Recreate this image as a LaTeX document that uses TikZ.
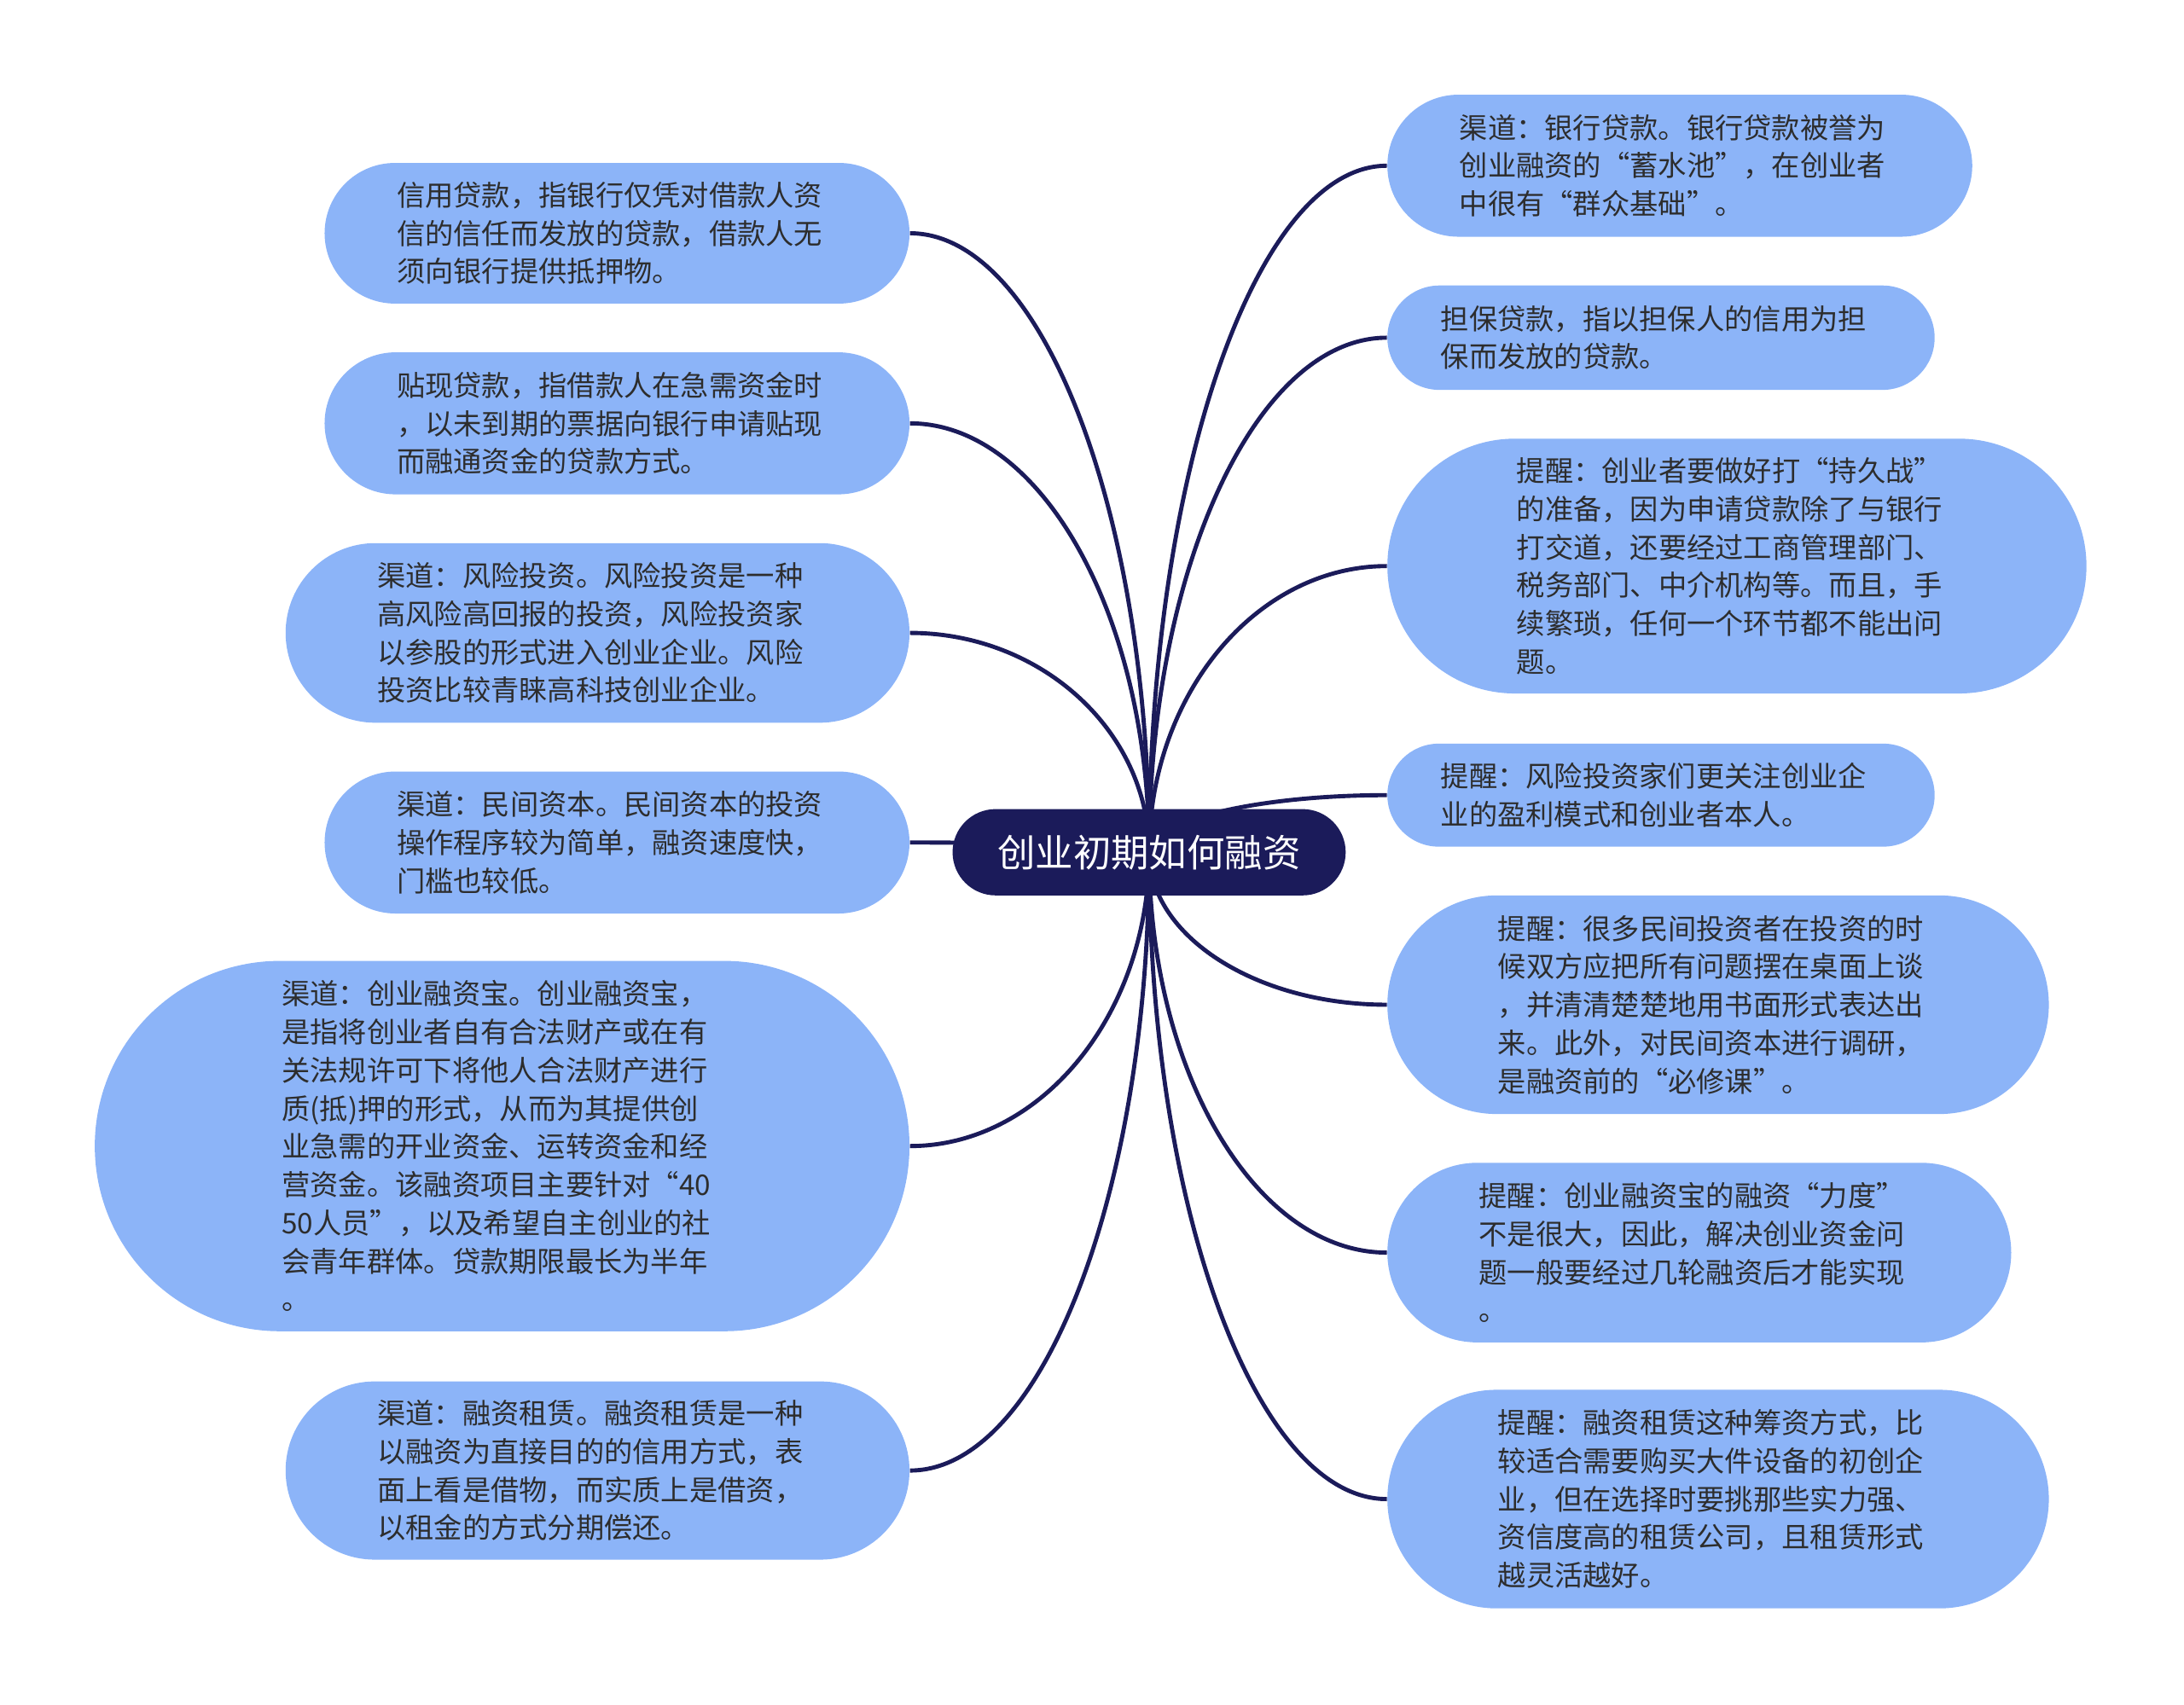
\documentclass[tikz,border=0pt]{standalone}
\usepackage{fontspec}
\newfontfamily\cjk{Noto Sans CJK SC}
\usetikzlibrary{shapes.misc, calc, backgrounds}
\definecolor{mapnavy}{RGB}{27, 27, 90}
\definecolor{mapblue}{RGB}{140, 180, 248}
\definecolor{maptext}{RGB}{45, 45, 45}

\begin{document}
\begin{tikzpicture}[x=0.02cm, y=-0.02cm,
    topic/.style={rounded rectangle, fill=mapnavy, text=white,
        font={\cjk\fontsize{15.5}{18}\selectfont},
        minimum width=5.88cm, minimum height=1.24cm},
    leaf/.style={rounded rectangle, fill=mapblue, text=maptext,
        font={\cjk\fontsize{11.6}{15.6}\selectfont},
        text width=180pt, align=left, inner xsep=0pt},
    link/.style={draw=mapnavy, line width=1.7pt}]

\useasboundingbox (0,0) rectangle (1568,1224);

% === Tema central ===
\node[topic] (root) at (825,612) {创业初期如何融资};

% === Rama izquierda ===
\node[leaf, minimum width=8.4cm, minimum height=2.02cm] (L1) at (443,167.5)
    {信用贷款，指银行仅凭对借款人资\\信的信任而发放的贷款，借款人无\\须向银行提供抵押物。};
\node[leaf, minimum width=8.4cm, minimum height=2.04cm] (L2) at (443,304)
    {贴现贷款，指借款人在急需资金时\\，以未到期的票据向银行申请贴现\\而融通资金的贷款方式。};
\node[leaf, minimum width=8.96cm, minimum height=2.58cm] (L3) at (429,454.5)
    {渠道：风险投资。风险投资是一种\\高风险高回报的投资，风险投资家\\以参股的形式进入创业企业。风险\\投资比较青睐高科技创业企业。};
\node[leaf, minimum width=8.4cm, minimum height=2.04cm] (L4) at (443,605)
    {渠道：民间资本。民间资本的投资\\操作程序较为简单，融资速度快，\\门槛也较低。};
\node[leaf, minimum width=11.7cm, minimum height=5.32cm] (L5) at (360.5,823)
    {渠道：创业融资宝。创业融资宝，\\是指将创业者自有合法财产或在有\\关法规许可下将他人合法财产进行\\质(抵)押的形式，从而为其提供创\\业急需的开业资金、运转资金和经\\营资金。该融资项目主要针对“40\\50人员”，以及希望自主创业的社\\会青年群体。贷款期限最长为半年\\。};
\node[leaf, minimum width=8.96cm, minimum height=2.56cm] (L6) at (429,1056)
    {渠道：融资租赁。融资租赁是一种\\以融资为直接目的的信用方式，表\\面上看是借物，而实质上是借资，\\以租金的方式分期偿还。};

% === Rama derecha ===
\node[leaf, minimum width=8.4cm, minimum height=2.04cm] (R1) at (1206,119)
    {渠道：银行贷款。银行贷款被誉为\\创业融资的“蓄水池”，在创业者\\中很有“群众基础”。};
\node[leaf, minimum width=7.86cm, minimum height=1.5cm] (R2) at (1192.5,242.5)
    {担保贷款，指以担保人的信用为担\\保而发放的贷款。};
\node[leaf, minimum width=10.04cm, minimum height=3.66cm] (R3) at (1247,406.5)
    {提醒：创业者要做好打“持久战”\\的准备，因为申请贷款除了与银行\\打交道，还要经过工商管理部门、\\税务部门、中介机构等。而且，手\\续繁琐，任何一个环节都不能出问\\题。};
\node[leaf, minimum width=7.86cm, minimum height=1.48cm] (R4) at (1192.5,571)
    {提醒：风险投资家们更关注创业企\\业的盈利模式和创业者本人。};
\node[leaf, minimum width=9.5cm, minimum height=3.14cm] (R5) at (1233.5,721.5)
    {提醒：很多民间投资者在投资的时\\候双方应把所有问题摆在桌面上谈\\，并清清楚楚地用书面形式表达出\\来。此外，对民间资本进行调研，\\是融资前的“必修课”。};
\node[leaf, minimum width=8.96cm, minimum height=2.58cm] (R6) at (1220,899.5)
    {提醒：创业融资宝的融资“力度”\\不是很大，因此，解决创业资金问\\题一般要经过几轮融资后才能实现\\。};
\node[leaf, minimum width=9.5cm, minimum height=3.14cm] (R7) at (1233.5,1076.5)
    {提醒：融资租赁这种筹资方式，比\\较适合需要购买大件设备的初创企\\业，但在选择时要挑那些实力强、\\资信度高的租赁公司，且租赁形式\\越灵活越好。};

% === Conexiones ===
\begin{scope}[on background layer]
\foreach \n in {L1,L2,L3,L4,L5,L6}
    \draw[link] (root.center) .. controls ($(root.center)!0.55!(root.center |- \n.east)$)
        and ($(root.center |- \n.east)!0.45!(\n.east)$) .. (\n.east);
\foreach \n in {R1,R2,R3,R4,R5,R6,R7}
    \draw[link] (root.center) .. controls ($(root.center)!0.55!(root.center |- \n.west)$)
        and ($(root.center |- \n.west)!0.45!(\n.west)$) .. (\n.west);
\end{scope}

\end{tikzpicture}
\end{document}
